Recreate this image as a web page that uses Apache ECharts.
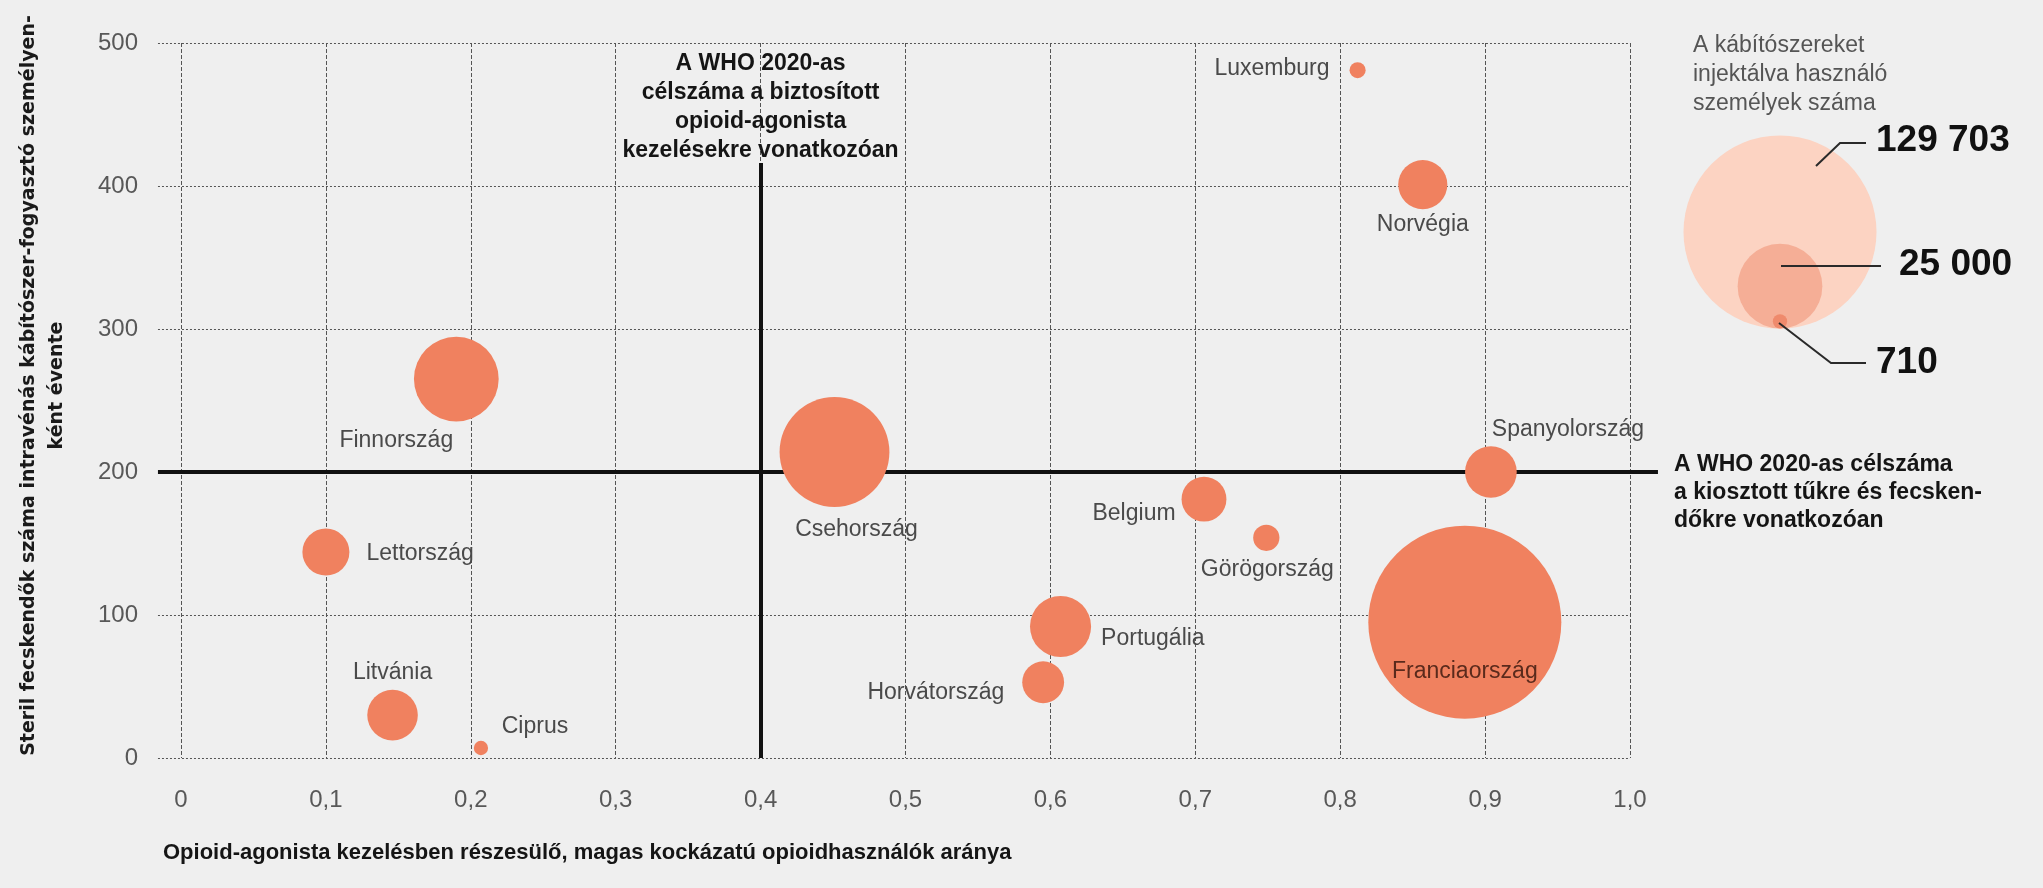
<!DOCTYPE html>
<html>
<head>
<meta charset="utf-8">
<script src="https://cdn.jsdelivr.net/npm/echarts@6/dist/echarts.min.js"></script>
<style>
  html, body { margin: 0; padding: 0; background: #efefef; }
  #chart { width: 2043px; height: 888px; }
</style>
</head>
<body>
<div id="chart"></div>
<script>
// adatok
const countries = ['Luxemburg', 'Norvégia', 'Finnország', 'Lettország', 'Litvánia', 'Ciprus', 'Csehország',
  'Belgium', 'Görögország', 'Portugália', 'Horvátország', 'Spanyolország', 'Franciaország']
const oatShare = [0.812, 0.857, 0.19, 0.1, 0.146, 0.207, 0.451, 0.706, 0.749, 0.607, 0.595, 0.904, 0.886]
const syringesPerPerson = [481, 401, 265, 144, 30, 7, 214, 181, 154, 92, 53, 200, 95]
const injectingUsers = [900, 8400, 25000, 7700, 8900, 710, 42000, 7000, 2400, 13000, 6100, 9300, 129703]

const xTickLabels = ['0', '0,1', '0,2', '0,3', '0,4', '0,5', '0,6', '0,7', '0,8', '0,9', '1,0']
const yTickValues = [0, 100, 200, 300, 400, 500]
const legendValues = [129703, 25000, 710]
const legendLabels = ['129 703', '25 000', '710']

const whoOat = 0.4
const whoSyringes = 200

const FONT = '"Liberation Sans", Arial, sans-serif'
const BUBBLE = '#f0815f'

// buborék átmérője: terület ~ felhasználók száma
const bubbleDiameter = v => 193 * Math.sqrt(v / 129703)

// címkék elhelyezése
const labelPlace = {
  'Luxemburg': { position: 'left', distance: 20, offset: [0, -2] },
  'Norvégia': { position: 'bottom', distance: 4 },
  'Finnország': { position: 'inside', offset: [-60, 62] },
  'Lettország': { position: 'right', distance: 17, offset: [0, 2] },
  'Litvánia': { position: 'top', distance: 6 },
  'Ciprus': { position: 'inside', offset: [54, -21] },
  'Csehország': { position: 'inside', offset: [22, 78] },
  'Belgium': { position: 'left', distance: 6, offset: [0, 14] },
  'Görögország': { position: 'inside', offset: [1, 32] },
  'Portugália': { position: 'right', distance: 10, offset: [0, 12] },
  'Horvátország': { position: 'left', distance: 18, offset: [0, 10] },
  'Spanyolország': { position: 'inside', offset: [77, -42] },
  'Franciaország': { position: 'inside', offset: [0, 50], color: '#5a2a1c' }
}

const bubbleData = countries.map((c, i) => ({
  name: c,
  value: [oatShare[i], syringesPerPerson[i], injectingUsers[i]],
  label: labelPlace[c]
}))

// referencia- és rácsvonalak
const gridLeftX = -0.0159
const annoText = { fontFamily: FONT, fontSize: 23, fontWeight: 'bold', color: '#151515' }
const refLines = [
  ...yTickValues.filter(v => v !== whoSyringes).map(v => ({
    coords: [[gridLeftX, v], [1, v]],
    lineStyle: { color: '#555', width: 1, type: [2, 2], opacity: 1 }
  })),
  {
    coords: [[gridLeftX, whoSyringes], [1.0193, whoSyringes]],
    lineStyle: { color: '#111', width: 4, type: 'solid', opacity: 1 },
    label: {
      show: true,
      position: 'end',
      distance: 16,
      formatter: '{s|}\n{a|A WHO 2020-as célszáma}\n{a|a kiosztott tűkre és fecsken-}\n{a|dőkre vonatkozóan}',
      opacity: 1,
      align: 'left',
      rich: {
        s: { height: 42, lineHeight: 42 },
        a: Object.assign({ lineHeight: 28 }, annoText)
      }
    }
  },
  {
    coords: [[whoOat, 0], [whoOat, 416]],
    lineStyle: { color: '#111', width: 4, type: 'solid', opacity: 1 },
    label: Object.assign({
      show: true,
      position: 'end',
      distance: -2,
      formatter: 'A WHO 2020-as\ncélszáma a biztosított\nopioid-agonista\nkezelésekre vonatkozóan',
      lineHeight: 29,
      opacity: 1,
      align: 'center'
    }, annoText)
  }
]

// jelmagyarázat (buborékméret)
const legendBottom = 328.5
const legendCx = 1780
const legendColors = ['#fcd3c2', '#f5ae96', '#ef8a6c']
const legendGraphics = [
  ...legendValues.map((v, i) => {
    const r = bubbleDiameter(v) / 2
    return { type: 'circle', shape: { cx: legendCx, cy: legendBottom - r, r }, style: { fill: legendColors[i] }, silent: true }
  }),
  { type: 'polyline', shape: { points: [[1816, 166], [1840, 143], [1866, 143]] }, style: { stroke: '#2a2a2a', lineWidth: 2, fill: null }, silent: true },
  { type: 'polyline', shape: { points: [[1781, 266], [1881, 266]] }, style: { stroke: '#2a2a2a', lineWidth: 2, fill: null }, silent: true },
  { type: 'polyline', shape: { points: [[1779, 323], [1831, 363], [1866, 363]] }, style: { stroke: '#2a2a2a', lineWidth: 2, fill: null }, silent: true },
  ...[[1876, 141], [1899, 265], [1876, 363]].map((p, i) => ({
    type: 'text', x: p[0], y: p[1], silent: true,
    style: { text: legendLabels[i], fontFamily: FONT, fontSize: 37, fontWeight: 'bold', fill: '#111', verticalAlign: 'middle' }
  })),
  {
    type: 'text', x: 1693, y: 31, silent: true,
    style: { text: 'A kábítószereket\ninjektálva használó\nszemélyek száma', fontFamily: FONT, fontSize: 23, lineHeight: 29, fill: '#555' }
  },
  {
    type: 'text', x: 163, y: 853, silent: true,
    style: {
      text: 'Opioid-agonista kezelésben részesülő, magas kockázatú opioidhasználók aránya',
      fontFamily: FONT, fontSize: 22, fontWeight: 'bold', fill: '#151515', verticalAlign: 'middle'
    }
  }
]

const option = {
  backgroundColor: '#efefef',
  animation: false,
  textStyle: { fontFamily: FONT },
  grid: { left: 181, right: 413, top: 43, bottom: 130, containLabel: false },
  xAxis: {
    type: 'value',
    min: 0,
    max: 1,
    interval: 0.1,
    axisLine: { show: false },
    axisTick: { show: false },
    axisLabel: {
      margin: 30,
      fontSize: 24,
      color: '#585858',
      formatter: v => xTickLabels[Math.round(v * 10)]
    },
    splitLine: { show: true, lineStyle: { color: '#555', width: 1, type: [4, 2] } }
  },
  yAxis: {
    type: 'value',
    min: 0,
    max: 500,
    interval: 100,
    name: 'Steril fecskendők száma intravénás kábítószer-fogyasztó személyen-\nként évente',
    nameLocation: 'middle',
    nameGap: 110,
    nameTextStyle: {
      fontFamily: '"DejaVu Sans", sans-serif',
      fontSize: 19, fontWeight: 'bold', color: '#1a1a1a', lineHeight: 28, align: 'center',
      padding: [0, 0, 0, 30]
    },
    axisLine: { show: false },
    axisTick: { show: false },
    axisLabel: { margin: 43, fontSize: 24, color: '#585858' },
    splitLine: { show: false }
  },
  graphic: legendGraphics,
  series: [
    {
      type: 'lines',
      coordinateSystem: 'cartesian2d',
      clip: false,
      silent: true,
      z: 1,
      symbol: 'none',
      lineStyle: { opacity: 1 },
      data: refLines
    },
    {
      type: 'scatter',
      z: 3,
      silent: true,
      data: bubbleData,
      symbolSize: val => bubbleDiameter(val[2]),
      itemStyle: { color: BUBBLE, opacity: 1 },
      label: {
        show: true,
        formatter: '{b}',
        fontFamily: FONT,
        fontSize: 23,
        color: '#4a4a4a'
      },
      emphasis: { disabled: true }
    }
  ]
}

const chart = echarts.init(document.getElementById('chart'))
chart.setOption(option)
</script>
</body>
</html>
